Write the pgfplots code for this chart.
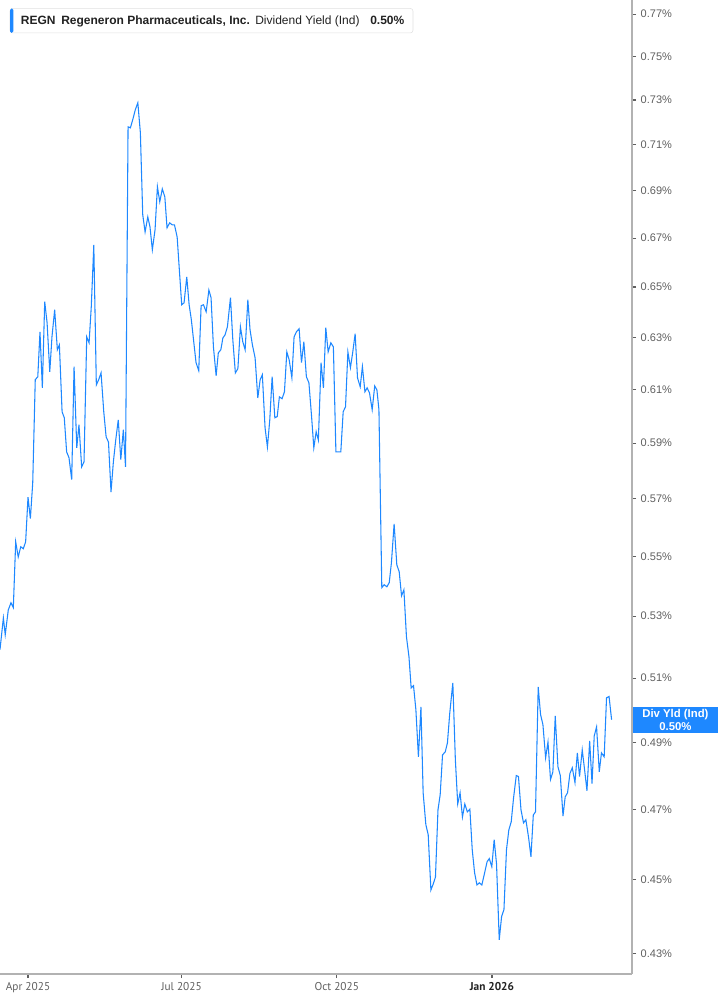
\documentclass[border=0pt]{standalone}
\usepackage{pgfplots}
\pgfplotsset{compat=1.18}
\usepackage{fontspec}
\setmainfont{Liberation Sans}
\newfontfamily\narrowfont{PT Sans}

\definecolor{lineblue}{RGB}{30,136,255}
\definecolor{axisgray}{RGB}{178,178,178}
\definecolor{labelgray}{RGB}{95,95,95}
\definecolor{titletext}{RGB}{34,34,34}

% REGN dividend yield (ind), in %; d = days since 1 Apr 2025
\pgfplotstableread{
d v
-16.6 0.5191
-14.6 0.5294
-13.5 0.5239
-11.7 0.5320
-10.1 0.5344
-8.7 0.5328
-7.3 0.5550
-5.8 0.5498
-4.3 0.5533
-2.8 0.5526
-1.4 0.5550
0.0 0.5706
1.4 0.5630
2.8 0.5757
4.3 0.6137
5.8 0.6148
7.1 0.6322
8.5 0.6106
9.9 0.6441
11.3 0.6358
12.9 0.6167
14.2 0.6302
15.8 0.6409
17.4 0.6252
18.6 0.6271
20.2 0.6016
21.5 0.5994
22.9 0.5868
24.3 0.5847
25.9 0.5768
27.3 0.6187
28.9 0.5883
30.2 0.5968
31.8 0.5814
33.2 0.5832
34.8 0.6302
36.2 0.6279
37.5 0.6421
39.0 0.6672
40.5 0.6117
41.9 0.6137
43.3 0.6163
44.9 0.6016
46.3 0.5923
47.7 0.5904
49.2 0.5724
50.6 0.5832
52.0 0.5912
53.5 0.5986
55.0 0.5840
56.5 0.5949
57.8 0.5814
59.3 0.7179
60.7 0.7175
62.1 0.7211
63.6 0.7255
65.1 0.7287
66.6 0.7153
68.0 0.6798
69.4 0.6726
71.0 0.6789
72.3 0.6747
73.7 0.6652
75.3 0.6735
76.7 0.6917
78.1 0.6853
79.6 0.6908
81.1 0.6874
82.4 0.6743
84.0 0.6764
85.4 0.6756
86.8 0.6756
88.4 0.6705
89.7 0.6570
91.1 0.6429
92.5 0.6437
94.1 0.6541
95.5 0.6429
96.8 0.6370
98.3 0.6279
99.6 0.6202
101.2 0.6171
102.6 0.6425
104.0 0.6429
105.6 0.6401
107.2 0.6488
108.5 0.6457
109.9 0.6263
111.5 0.6152
112.8 0.6240
114.3 0.6252
115.5 0.6298
116.8 0.6310
118.2 0.6342
120.0 0.6457
121.4 0.6290
122.9 0.6163
124.4 0.6179
125.9 0.6342
127.3 0.6283
128.7 0.6252
130.3 0.6449
131.6 0.6330
133.0 0.6271
134.6 0.6221
136.2 0.6068
137.6 0.6137
138.9 0.6156
140.5 0.5957
141.9 0.5886
143.3 0.5986
144.7 0.6148
146.3 0.5994
147.7 0.5998
149.0 0.6072
150.6 0.6065
152.0 0.6091
153.4 0.6244
154.8 0.6213
156.4 0.6144
157.7 0.6302
159.1 0.6322
160.7 0.6334
162.1 0.6202
163.5 0.6283
165.0 0.6148
166.5 0.6125
168.0 0.6005
169.4 0.5883
170.8 0.5942
172.1 0.5912
173.7 0.6202
175.1 0.6106
176.5 0.6338
177.9 0.6244
179.5 0.6279
181.0 0.6263
182.5 0.5868
184.0 0.5868
185.4 0.5868
186.8 0.6016
188.2 0.6035
189.6 0.6244
191.1 0.6183
192.5 0.6244
193.9 0.6314
195.3 0.6144
196.9 0.6110
198.2 0.6187
199.7 0.6091
201.0 0.6106
202.4 0.6087
204.0 0.6024
205.5 0.6113
206.8 0.6098
208.0 0.6024
209.7 0.5394
211.1 0.5404
212.7 0.5397
214.1 0.5411
215.4 0.5478
217.0 0.5612
218.6 0.5471
220.0 0.5448
221.4 0.5367
222.8 0.5387
224.3 0.5233
225.8 0.5168
227.1 0.5069
228.5 0.5076
229.9 0.5001
231.4 0.4857
232.9 0.5010
234.2 0.4750
235.8 0.4657
237.2 0.4628
238.8 0.4472
240.2 0.4489
241.5 0.4508
243.0 0.4700
244.3 0.4744
245.7 0.4863
247.3 0.4872
248.6 0.4899
250.0 0.4992
251.8 0.5085
253.3 0.4848
254.7 0.4717
256.1 0.4750
257.5 0.4679
258.9 0.4717
260.4 0.4694
261.9 0.4702
263.3 0.4585
264.7 0.4520
266.1 0.4486
267.5 0.4492
269.0 0.4486
270.5 0.4517
272.1 0.4551
273.4 0.4560
274.9 0.4537
276.3 0.4614
277.7 0.4545
279.3 0.4336
280.7 0.4399
282.1 0.4418
283.6 0.4585
285.0 0.4642
286.4 0.4665
287.8 0.4735
289.4 0.4801
290.7 0.4798
292.2 0.4700
293.7 0.4662
295.1 0.4671
296.7 0.4620
298.1 0.4565
299.5 0.4685
300.8 0.4694
302.4 0.5072
303.8 0.4986
305.2 0.4955
306.8 0.4854
308.2 0.4902
309.7 0.4789
311.1 0.4812
312.5 0.4982
314.1 0.4827
315.5 0.4801
317.1 0.4682
318.4 0.4738
319.8 0.4750
321.2 0.4807
322.6 0.4824
324.2 0.4780
325.6 0.4869
326.9 0.4798
328.5 0.4878
329.9 0.4818
331.3 0.4756
332.9 0.4905
334.3 0.4777
335.6 0.4920
337.0 0.4948
338.6 0.4812
339.9 0.4869
341.5 0.4857
342.9 0.5038
344.4 0.5042
345.9 0.4970
}\yielddata

\begin{document}
\begin{tikzpicture}
\useasboundingbox (0,0) rectangle (537.75pt,753.75pt);
\begin{axis}[
  at={(0pt,23.25pt)}, anchor=south west,
  scale only axis, width=474pt, height=730.5pt,
  ymode=log,
  xmin=-16.6, xmax=358, ymin=0.4245, ymax=0.7767,
  axis x line*=bottom, axis y line*=right,
  axis line style={-, draw=axisgray, line width=1.5pt},
  tick align=outside, major tick length=3pt,
  tick style={draw=labelgray, line width=0.8pt},
  yminorticks=false, xminorticks=false,
  xtick={0,91,183,275},
  xticklabels={Apr 2025, Jul 2025, Oct 2025, {\color{titletext}\bfseries Jan 2026}},
  xticklabel style={font=\narrowfont\fontsize{8.5pt}{10pt}\selectfont, text=labelgray},
  ytick={0.43,0.45,0.47,0.49,0.51,0.53,0.55,0.57,0.59,0.61,0.63,0.65,0.67,0.69,0.71,0.73,0.75,0.77},
  yticklabels={0.43\%,0.45\%,0.47\%,0.49\%,0.51\%,0.53\%,0.55\%,0.57\%,0.59\%,0.61\%,0.63\%,0.65\%,0.67\%,0.69\%,0.71\%,0.73\%,0.75\%,0.77\%},
  yticklabel style={font=\fontsize{8.25pt}{10pt}\selectfont, text=labelgray, anchor=west},
  clip mode=individual,
]
\addplot[lineblue, line width=0.8pt, no marks] table[x=d, y=v] {\yielddata};
\coordinate (lastpt) at (axis cs:358,0.4970);
\end{axis}

% current value tag on the right axis
\node[fill=lineblue, text=white, anchor=west, inner sep=0pt,
      minimum width=63.75pt, minimum height=19.5pt, align=center,
      font=\bfseries\fontsize{8.5pt}{9.75pt}\selectfont]
  at ([xshift=0.5pt]lastpt) {Div Yld (Ind)\\0.50\%};

% title box
\draw[draw=black!12, fill=white, rounded corners=2pt] (7.5pt,729pt) rectangle (309.75pt,747.4pt);
\fill[lineblue, rounded corners=1.2pt] (7.5pt,729pt) rectangle (10pt,747.4pt);
\begin{scope}[every node/.style={anchor=base west, inner sep=0pt, text=titletext,
    font=\fontsize{9pt}{10pt}\selectfont}]
  \node at (15.5pt,735pt) {\bfseries REGN};
  \node at (45.75pt,735pt) {\bfseries Regeneron Pharmaceuticals, Inc.};
  \node at (191.25pt,735pt) {Dividend Yield (Ind)};
  \node at (277.5pt,735pt) {\bfseries 0.50\%};
\end{scope}
\end{tikzpicture}
\end{document}
